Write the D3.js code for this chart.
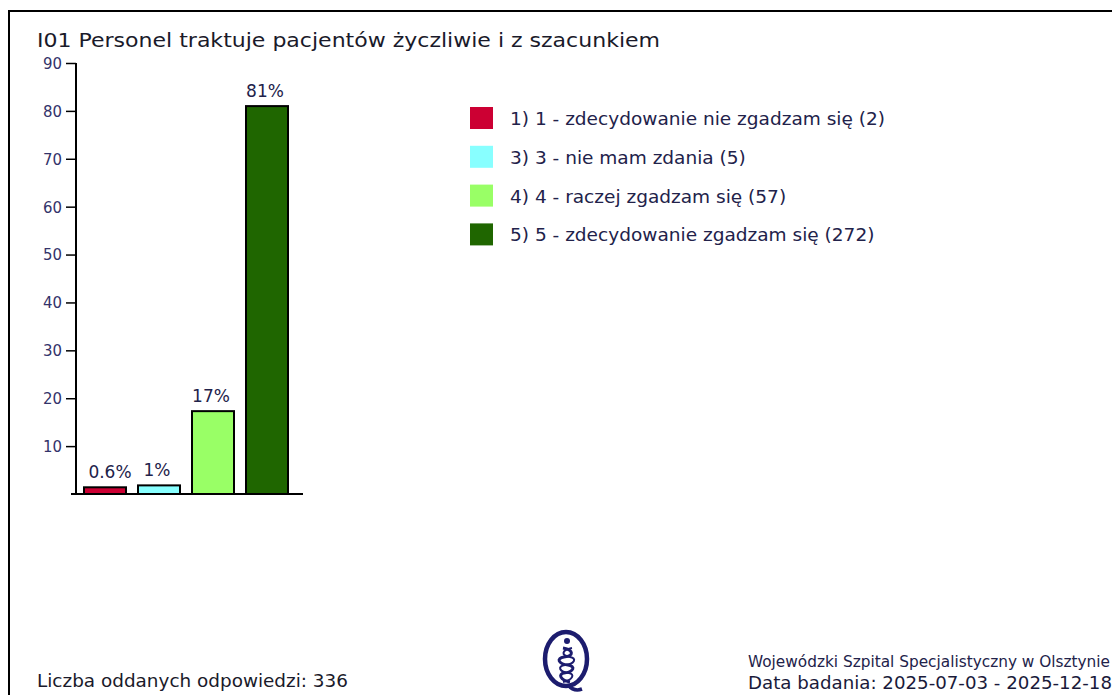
<!DOCTYPE html>
<html>
<head>
<meta charset="utf-8">
<script src="https://cdn.jsdelivr.net/npm/d3@7"></script>
<style>
    body { margin: 0; background: #fff; }
    svg { display: block; }
    text { font-family: 'DejaVu Sans', Verdana, sans-serif; }
</style>
</head>
<body>
<div id="chart"></div>
<script>
// data
const categories = [
    '1) 1 - zdecydowanie nie zgadzam się (2)',
    '3) 3 - nie mam zdania (5)',
    '4) 4 - raczej zgadzam się (57)',
    '5) 5 - zdecydowanie zgadzam się (272)'
];
const barValues = [1.4, 1.8, 17.3, 81];
const barLabels = ['0.6%', '1%', '17%', '81%'];
const colors = ['#cc0033', '#88ffff', '#99ff66', '#1f6600'];
const yTicks = [10, 20, 30, 40, 50, 60, 70, 80, 90];
const title = 'I01 Personel traktuje pacjentów życzliwie i z szacunkiem';
const footerLeft = 'Liczba oddanych odpowiedzi: 336';
const footerRight1 = 'Wojewódzki Szpital Specjalistyczny w Olsztynie';
const footerRight2 = 'Data badania: 2025-07-03 - 2025-12-18';

window.onload = () => {
    const w = 1112;
    const h = 695;
    const textCol = '#22224a';

    const svg = d3.select('#chart')
        .append('svg')
        .attr('width', w)
        .attr('height', h);

    // frame
    svg.append('path')
        .attr('d', `M9,${h + 5} V11 H${w + 5}`)
        .attr('fill', 'none')
        .attr('stroke', '#000')
        .attr('stroke-width', 2);

    // squeeze text to the measured width
    function fit(sel, width) {
        sel.attr('textLength', width).attr('lengthAdjust', 'spacingAndGlyphs');
    }

    const t = svg.append('text')
        .attr('x', 37)
        .attr('y', 47)
        .attr('font-size', 20)
        .attr('fill', '#1a1a2a')
        .text(title);
    fit(t, 623);

    const yScale = d3.scaleLinear().domain([0, 90]).range([494, 63]);
    const xScale = d3.scaleBand()
        .domain(d3.range(categories.length))
        .range([84, 84 + 54 * categories.length - 12])
        .paddingInner(12 / 54)
        .paddingOuter(0);

    const yAxis = svg.append('g')
        .attr('transform', 'translate(76,0)')
        .call(d3.axisLeft(yScale).tickValues(yTicks).tickSize(10).tickPadding(4));
    yAxis.attr('font-size', null).attr('font-family', null);
    yAxis.select('.domain')
        .attr('d', `M0,${yScale(90)} V${yScale(0)}`)
        .attr('stroke-width', 2);
    yAxis.selectAll('.tick line').attr('stroke-width', 1.5);
    yAxis.selectAll('.tick text')
        .style('font-size', '15px')
        .attr('dy', '0.36em')
        .attr('fill', '#33336a')
        .attr('textLength', 19)
        .attr('lengthAdjust', 'spacingAndGlyphs');

    // baseline
    svg.append('line')
        .attr('x1', 71).attr('x2', 303)
        .attr('y1', yScale(0)).attr('y2', yScale(0))
        .attr('stroke', '#000')
        .attr('stroke-width', 2);

    svg.selectAll('rect.bar')
        .data(barValues)
        .enter()
        .append('rect')
        .attr('class', 'bar')
        .attr('x', (d, i) => xScale(i))
        .attr('y', d => yScale(d))
        .attr('width', xScale.bandwidth())
        .attr('height', d => yScale(0) - yScale(d))
        .attr('fill', (d, i) => colors[i])
        .attr('stroke', '#000')
        .attr('stroke-width', 2);

    svg.selectAll('text.val')
        .data(barValues)
        .enter()
        .append('text')
        .attr('class', 'val')
        .attr('x', (d, i) => xScale(i) + xScale.bandwidth() / 2 + (i === 0 ? 5 : -2))
        .attr('y', d => yScale(d) - 9)
        .attr('text-anchor', 'middle')
        .attr('font-size', 17)
        .attr('fill', textCol)
        .text((d, i) => barLabels[i]);

    // legend
    const legend = svg.append('g').attr('transform', 'translate(470,107)');
    const rows = legend.selectAll('g')
        .data(categories)
        .enter()
        .append('g')
        .attr('transform', (d, i) => `translate(0,${i * 38.8})`);
    rows.append('rect')
        .attr('width', 23)
        .attr('height', 22)
        .attr('fill', (d, i) => colors[i]);
    const legendText = rows.append('text')
        .attr('x', 40)
        .attr('y', 18)
        .attr('font-size', 17)
        .attr('fill', textCol)
        .text(d => d);
    const ratio = 375 / legendText.node().getComputedTextLength();
    legendText.each(function () {
        const len = this.getComputedTextLength();
        d3.select(this).attr('textLength', len * ratio).attr('lengthAdjust', 'spacingAndGlyphs');
    });

    // footer
    const fl = svg.append('text')
        .attr('x', 37)
        .attr('y', 687)
        .attr('font-size', 17)
        .attr('fill', '#1a1a2a')
        .text(footerLeft);
    fit(fl, 311);

    const fr1 = svg.append('text')
        .attr('x', 748)
        .attr('y', 667)
        .attr('font-size', 15)
        .attr('font-family', "'Liberation Sans Narrow', 'DejaVu Sans Condensed', sans-serif")
        .attr('fill', '#22224a')
        .text(footerRight1);
    fit(fr1, 362);

    const fr2 = svg.append('text')
        .attr('x', 748)
        .attr('y', 689)
        .attr('font-size', 17)
        .attr('font-family', "'Liberation Serif', 'DejaVu Serif', serif")
        .attr('fill', '#1a1a3a')
        .text(footerRight2);
    fit(fr2, 364);

    // logo: Q-shaped oval with helix
    const logo = svg.append('g')
        .attr('transform', 'translate(566,659)')
        .attr('fill', 'none')
        .attr('stroke', '#1c1c6e');
    logo.append('ellipse')
        .attr('rx', 21)
        .attr('ry', 27)
        .attr('stroke-width', 4.5);
    logo.append('path')
        .attr('d', 'M2,26 Q8,33 16,30')
        .attr('stroke-width', 3.5);
    logo.append('circle')
        .attr('cx', 1).attr('cy', -18).attr('r', 3)
        .attr('fill', '#1c1c6e').attr('stroke', 'none');
    logo.append('path')
        .attr('d', 'M-3,-11 C8,-9 8,-3 -2,-2 C-10,-1 -8,5 2,6 C10,7 8,13 -2,14 C-8,15 -6,21 4,23')
        .attr('stroke-width', 3);
    logo.append('path')
        .attr('d', 'M6,-11 C-5,-9 -5,-3 4,-2 C11,-1 9,5 -1,6 C-9,7 -7,13 3,14 C9,15 7,21 -3,23')
        .attr('stroke-width', 2);
};
</script>
</body>
</html>
